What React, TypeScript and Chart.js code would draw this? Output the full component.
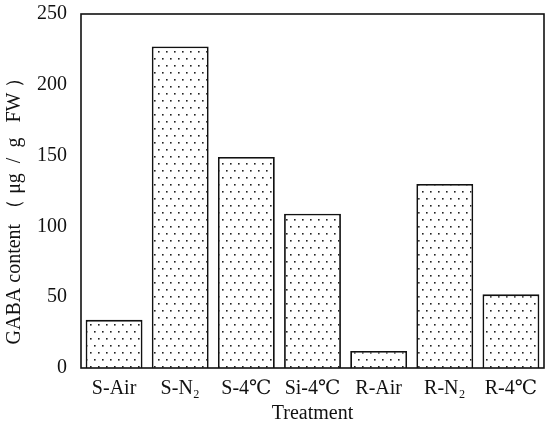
import React, { useEffect, useRef } from "react";
import { Chart, registerables } from "chart.js";

Chart.register(...registerables);

const categories = ["S-Air", "S-N₂", "S-4℃", "Si-4℃", "R-Air", "R-N₂", "R-4℃"];
const gabaValues = [34, 227, 149, 109, 12, 130, 52];
const yTicks = [0, 50, 100, 150, 200, 250];

function makePattern(): CanvasPattern | string {
  const c = document.createElement("canvas");
  c.width = 8;
  c.height = 14;
  const g = c.getContext("2d");
  if (!g) return "#fff";
  g.fillStyle = "#ffffff";
  g.fillRect(0, 0, 8, 14);
  g.fillStyle = "#222";
  g.fillRect(2, 2, 1.6, 1.6);
  g.fillRect(6, 9, 1.6, 1.6);
  const p = g.createPattern(c, "repeat");
  return p || "#fff";
}

const framePlugin = {
  id: "frame",
  afterDatasetsDraw(chart: any) {
    const { ctx, chartArea } = chart;
    ctx.save();
    ctx.strokeStyle = "#111";
    ctx.lineWidth = 1.6;
    ctx.strokeRect(chartArea.left, chartArea.top, chartArea.right - chartArea.left, chartArea.bottom - chartArea.top);
    ctx.restore();
  },
};

export default function App() {
  const ref = useRef<HTMLCanvasElement>(null);
  useEffect(() => {
    if (!ref.current) return;
    const font = "'Liberation Serif', 'DejaVu Serif', serif";
    const chart = new Chart(ref.current, {
      type: "bar",
      data: {
        labels: categories,
        datasets: [
          {
            data: gabaValues,
            backgroundColor: makePattern() as any,
            borderColor: "#111",
            borderWidth: 1.8,
            barPercentage: 0.86,
            categoryPercentage: 1,
          },
        ],
      },
      plugins: [framePlugin],
      options: {
        animation: false,
        responsive: false,
        layout: { padding: { top: 14, right: 2, left: 0, bottom: 0 } },
        plugins: { legend: { display: false }, tooltip: { enabled: false } },
        scales: {
          x: {
            grid: { display: false },
            border: { display: false },
            ticks: { color: "#111", font: { family: font, size: 20 }, padding: 1, maxRotation: 0 },
            title: { display: true, text: "Treatment", color: "#111", font: { family: font, size: 20 }, padding: { top: 0 } },
            afterFit(scale: any) {
              scale.height = 62;
              scale.paddingLeft = 0;
              scale.paddingRight = 0;
            },
          },
          y: {
            min: 0,
            max: 250,
            afterBuildTicks(scale: any) {
              scale.ticks = yTicks.map((v) => ({ value: v }));
            },
            grid: { display: false },
            border: { display: false },
            ticks: { color: "#111", font: { family: font, size: 20 }, padding: 6 },
            title: {
              display: true,
              text: "GABA content （ μg  /  g   FW ）      ",
              color: "#111",
              font: { family: font, size: 20 },
              padding: { top: 3, bottom: 6 },
            },
            afterFit(scale: any) {
              scale.width = 81;
              scale.paddingTop = 0;
              scale.paddingBottom = 0;
            },
          },
        },
      },
    });
    return () => chart.destroy();
  }, []);
  return (
    <div style={{ position: "fixed", left: 0, top: 0, width: 546, height: 430, background: "#fff" }}>
      <canvas ref={ref} width={546} height={430} style={{ width: 546, height: 430 }} />
    </div>
  );
}
